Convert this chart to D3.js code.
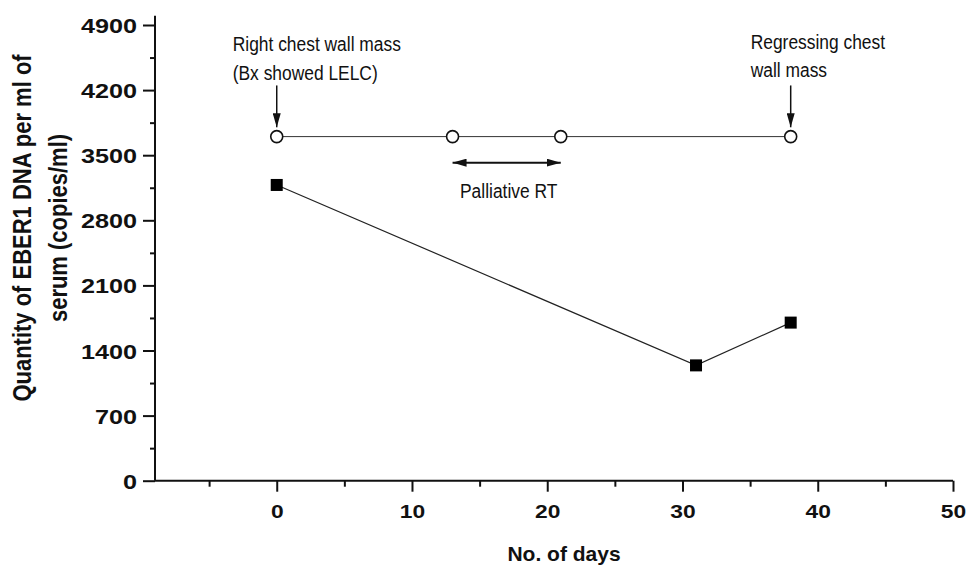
<!DOCTYPE html>
<html>
<head>
<meta charset="utf-8">
<script src="https://cdn.jsdelivr.net/npm/d3@7"></script>
<style>
  html, body { margin: 0; padding: 0; background: #fff; }
  svg { display: block; }
</style>
</head>
<body>
<svg id="chart" width="968" height="570"></svg>
<script>
// ---- data ----
const eventDays = [0, 13, 21, 38];
const eventLevel = [3700, 3700, 3700, 3700];
const eberDays = [0, 31, 38];
const eberValues = [3180, 1240, 1700];
const yTickValues = [0, 700, 1400, 2100, 2800, 3500, 4200, 4900];
const yMinorValues = [350, 1050, 1750, 2450, 3150, 3850, 4550];
const xTickValues = [0, 10, 20, 30, 40, 50];
const xMinorValues = [-5, 5, 15, 25, 35, 45];
const rtDays = [13, 21];
const rtLevel = 3420;
const noteArrowDays = [0, 38];
const noteArrowFrom = 4250;
const noteArrowTo = 3800;
const xTitle = "No. of days";
const yTitleLines = ["Quantity of EBER1 DNA per ml of", "serum (copies/ml)"];
const noteLeft = ["Right chest wall mass", "(Bx showed LELC)"];
const noteRight = ["Regressing chest", "wall mass"];
const noteRT = "Palliative RT";

// ---- scales ----
const svg = d3.select("#chart");
const x = d3.scaleLinear().domain([-9, 50]).range([155, 953]);
const y = d3.scaleLinear().domain([0, 5000]).range([480.7, 15.7]);

const boldFont = "'Liberation Sans', Arial, sans-serif";
const ink = "#111";

// ---- axes ----
const tickScaleX = 1.2;
const yAxisG = svg.append("g").attr("transform", `translate(${x(-9)},0)`)
  .call(d3.axisLeft(y).tickValues(yTickValues).tickSize(12).tickPadding(6).tickFormat(d3.format("d")));
yAxisG.select(".domain").attr("d", `M0,${y(5000)}V${y(0)}`);
const yMinorG = svg.append("g").attr("transform", `translate(${x(-9)},0)`)
  .call(d3.axisLeft(y).tickValues(yMinorValues).tickSize(5).tickFormat(""));
yMinorG.select(".domain").remove();

const xAxisG = svg.append("g").attr("transform", `translate(0,${y(0)})`)
  .call(d3.axisBottom(x).tickValues(xTickValues).tickSize(11).tickPadding(13).tickFormat(d3.format("d")));
xAxisG.select(".domain").attr("d", `M${x(-9)},0H${x(50)}`);
const xMinorG = svg.append("g").attr("transform", `translate(0,${y(0)})`)
  .call(d3.axisBottom(x).tickValues(xMinorValues).tickSize(6).tickFormat(""));
xMinorG.select(".domain").remove();

svg.selectAll(".domain, .tick line").attr("stroke", ink).attr("stroke-width", 2);

yAxisG.selectAll(".tick text")
  .attr("font-family", boldFont).attr("font-weight", "bold").attr("font-size", 21)
  .attr("fill", ink)
  .attr("x", -18 / tickScaleX)
  .attr("dy", "0.36em")
  .attr("transform", `scale(${tickScaleX},1)`);
xAxisG.selectAll(".tick text")
  .attr("font-family", boldFont).attr("font-weight", "bold").attr("font-size", 19)
  .attr("fill", ink)
  .attr("transform", `scale(${tickScaleX},1)`);

// ---- titles ----
svg.append("text")
  .attr("x", 564).attr("y", 561)
  .attr("text-anchor", "middle")
  .attr("font-family", boldFont).attr("font-weight", "bold").attr("font-size", 21)
  .attr("fill", ink)
  .text(xTitle);

const yTitleBase = [31, 67];
yTitleLines.forEach((t, i) => {
  svg.append("text")
    .attr("transform", `translate(${yTitleBase[i]},228) rotate(-90) scale(1,1.15)`)
    .attr("text-anchor", "middle")
    .attr("font-family", boldFont).attr("font-weight", "bold").attr("font-size", 22)
    .attr("fill", ink)
    .text(t);
});

// ---- defs: arrowheads ----
const defs = svg.append("defs");
defs.append("marker").attr("id", "ah")
  .attr("viewBox", "0 0 14 8").attr("refX", 14).attr("refY", 4)
  .attr("markerWidth", 14).attr("markerHeight", 8)
  .attr("markerUnits", "userSpaceOnUse").attr("orient", "auto-start-reverse")
  .append("path").attr("d", "M0,0L14,4L0,8Z").attr("fill", ink);

// ---- lines ----
const line = d3.line().x(d => x(d[0])).y(d => y(d[1]));
const eventPts = eventDays.map((d, i) => [d, eventLevel[i]]);
const eberPts = eberDays.map((d, i) => [d, eberValues[i]]);

svg.append("path").attr("d", line(eventPts))
  .attr("fill", "none").attr("stroke", "#333").attr("stroke-width", 1);
svg.append("path").attr("d", line(eberPts))
  .attr("fill", "none").attr("stroke", "#222").attr("stroke-width", 1.2);

svg.selectAll(".evt").data(eventPts).enter().append("circle")
  .attr("cx", d => x(d[0])).attr("cy", d => y(d[1])).attr("r", 6)
  .attr("fill", "#fff").attr("stroke", ink).attr("stroke-width", 1.6);

const sq = 12;
svg.selectAll(".eb").data(eberPts).enter().append("rect")
  .attr("x", d => x(d[0]) - sq / 2).attr("y", d => y(d[1]) - sq / 2)
  .attr("width", sq).attr("height", sq).attr("fill", "#000");

// ---- annotation arrows ----
noteArrowDays.forEach(d => {
  svg.append("line")
    .attr("x1", x(d)).attr("x2", x(d))
    .attr("y1", y(noteArrowFrom)).attr("y2", y(noteArrowTo))
    .attr("stroke", ink).attr("stroke-width", 1.5)
    .attr("marker-end", "url(#ah)");
});
svg.append("line")
  .attr("x1", x(rtDays[0])).attr("x2", x(rtDays[1]))
  .attr("y1", y(rtLevel)).attr("y2", y(rtLevel))
  .attr("stroke", ink).attr("stroke-width", 2)
  .attr("marker-start", "url(#ah)").attr("marker-end", "url(#ah)");

// ---- annotation texts ----
const noteScale = 0.87;
function note(str, px, py, anchor) {
  svg.append("text")
    .attr("transform", `translate(${px},${py}) scale(${noteScale},1)`)
    .attr("text-anchor", anchor || "start")
    .attr("font-family", "'Liberation Sans', Arial, sans-serif")
    .attr("font-size", 20).attr("fill", ink)
    .text(str);
}
note(noteLeft[0], x(0) - 44, 51);
note(noteLeft[1], x(0) - 44, 80);
note(noteRight[0], x(38) - 40, 49);
note(noteRight[1], x(38) - 40, 77);
note(noteRT, (x(rtDays[0]) + x(rtDays[1])) / 2 + 2, 198, "middle");
</script>
</body>
</html>
